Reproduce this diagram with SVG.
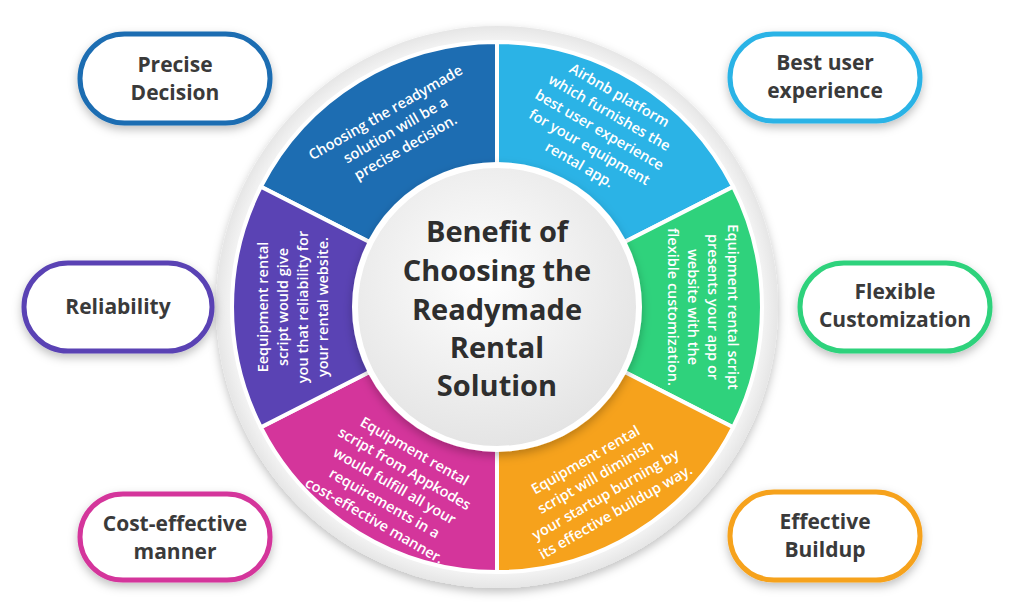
<svg xmlns="http://www.w3.org/2000/svg" width="1024" height="615" viewBox="0 0 1024 615">
<defs>
<filter id="sh" x="-20%" y="-20%" width="140%" height="150%"><feDropShadow dx="0" dy="4" stdDeviation="5" flood-color="#000" flood-opacity="0.25"/></filter>
<radialGradient id="ring" cx="0.5" cy="0.5" r="0.5"><stop offset="0.9" stop-color="#fff"/><stop offset="1" stop-color="#e6e6e6"/></radialGradient>
<radialGradient id="inner" cx="0.45" cy="0.4" r="0.6"><stop offset="0" stop-color="#fff"/><stop offset="1" stop-color="#e4e4e4"/></radialGradient>
</defs>
<style>
.pill{fill:#fff;stroke-width:5;filter:url(#sh)}
.pt{font-family:"Open Sans","Liberation Sans",sans-serif;font-weight:700;font-size:21px;fill:#3a3a3a;text-anchor:middle}
.st{font-family:"Open Sans","Liberation Sans",sans-serif;font-weight:600;font-size:14.5px;fill:#fff;text-anchor:middle}
.ct{font-family:"Open Sans","Liberation Sans",sans-serif;font-weight:700;font-size:29px;fill:#2e2e2e;text-anchor:middle}
.seg{stroke:#fff;stroke-width:4}
</style>
<circle cx="497" cy="307" r="281" fill="url(#ring)" filter="url(#sh)"/>
<g id="segments">
<path class="seg" d="M497 307 L260.9 186.7 A265 265 0 0 1 497 42 Z" fill="#1d6db2"/>
<path class="seg" d="M497 307 L497 42 A265 265 0 0 1 733.1 186.7 Z" fill="#2bb3e6"/>
<path class="seg" d="M497 307 L733.1 186.7 A265 265 0 0 1 733.1 427.3 Z" fill="#2fd27c"/>
<path class="seg" d="M497 307 L733.1 427.3 A265 265 0 0 1 497 572 Z" fill="#f6a21c"/>
<path class="seg" d="M497 307 L497 572 A265 265 0 0 1 260.9 427.3 Z" fill="#d4359b"/>
<path class="seg" d="M497 307 L260.9 427.3 A265 265 0 0 1 260.9 186.7 Z" fill="#5a43b4"/>
</g>
<g id="segment-texts">
<text class="st" transform="translate(395 129) rotate(-30)"><tspan x="0" y="-14">Choosing the readymade</tspan><tspan x="0" y="6">solution will be a</tspan><tspan x="0" y="26">precise decision.</tspan></text>
<text class="st" transform="translate(600 129) rotate(30)"><tspan x="0" y="-34">Airbnb platform</tspan><tspan x="0" y="-14">which furnishes the</tspan><tspan x="0" y="6">best user experience</tspan><tspan x="0" y="26">for your equipment</tspan><tspan x="0" y="46">rental app.</tspan></text>
<text class="st" transform="translate(704 307) rotate(90)"><tspan x="0" y="-24">Equipment rental script</tspan><tspan x="0" y="-4">presents your app or</tspan><tspan x="0" y="16">website with the</tspan><tspan x="0" y="36">flexible customization.</tspan></text>
<text class="st" transform="translate(600 485) rotate(-30)"><tspan x="0" y="-24">Equipment rental</tspan><tspan x="0" y="-4">script will diminish</tspan><tspan x="0" y="16">your startup burning by</tspan><tspan x="0" y="36">its effective buildup way.</tspan></text>
<text class="st" transform="translate(395 485) rotate(30)"><tspan x="0" y="-34">Equipment rental</tspan><tspan x="0" y="-14">script from Appkodes</tspan><tspan x="0" y="6">would fulfill all your</tspan><tspan x="0" y="26">requirements in a</tspan><tspan x="0" y="46">cost-effective manner.</tspan></text>
<text class="st" transform="translate(292 307) rotate(-90)"><tspan x="0" y="-24">Eequipment rental</tspan><tspan x="0" y="-4">script would give</tspan><tspan x="0" y="16">you that reliability for</tspan><tspan x="0" y="36">your rental website.</tspan></text>
</g>
<g id="center">
<circle cx="497" cy="307" r="142" fill="url(#inner)" stroke="#fff" stroke-width="6" filter="url(#sh)"/>
<text class="ct"><tspan x="497" y="242">Benefit of</tspan><tspan x="497" y="281">Choosing the</tspan><tspan x="497" y="320">Readymade</tspan><tspan x="497" y="358">Rental</tspan><tspan x="497" y="396">Solution</tspan></text>
</g>
<g id="connectors"></g>
<g id="n1"><rect class="pill" x="80" y="34" width="190" height="89" rx="44.5" stroke="#1d6db2"/><text class="pt"><tspan x="175" y="72">Precise</tspan><tspan x="175" y="100">Decision</tspan></text></g>
<g id="n2"><rect class="pill" x="730" y="34" width="190" height="87" rx="43.5" stroke="#2bb3e6"/><text class="pt"><tspan x="825" y="70">Best user</tspan><tspan x="825" y="98">experience</tspan></text></g>
<g id="n3"><rect class="pill" x="800" y="263" width="190" height="88" rx="44" stroke="#2fd27c"/><text class="pt"><tspan x="895" y="299">Flexible</tspan><tspan x="895" y="327">Customization</tspan></text></g>
<g id="n4"><rect class="pill" x="730" y="492" width="190" height="88" rx="44" stroke="#f6a21c"/><text class="pt"><tspan x="825" y="529">Effective</tspan><tspan x="825" y="557">Buildup</tspan></text></g>
<g id="n5"><rect class="pill" x="80" y="494" width="190" height="86" rx="43" stroke="#d4359b"/><text class="pt"><tspan x="175" y="531">Cost-effective</tspan><tspan x="175" y="559">manner</tspan></text></g>
<g id="n6"><rect class="pill" x="24" y="263" width="188" height="88" rx="44" stroke="#5a43b4"/><text class="pt"><tspan x="118" y="314">Reliability</tspan></text></g>
</svg>
